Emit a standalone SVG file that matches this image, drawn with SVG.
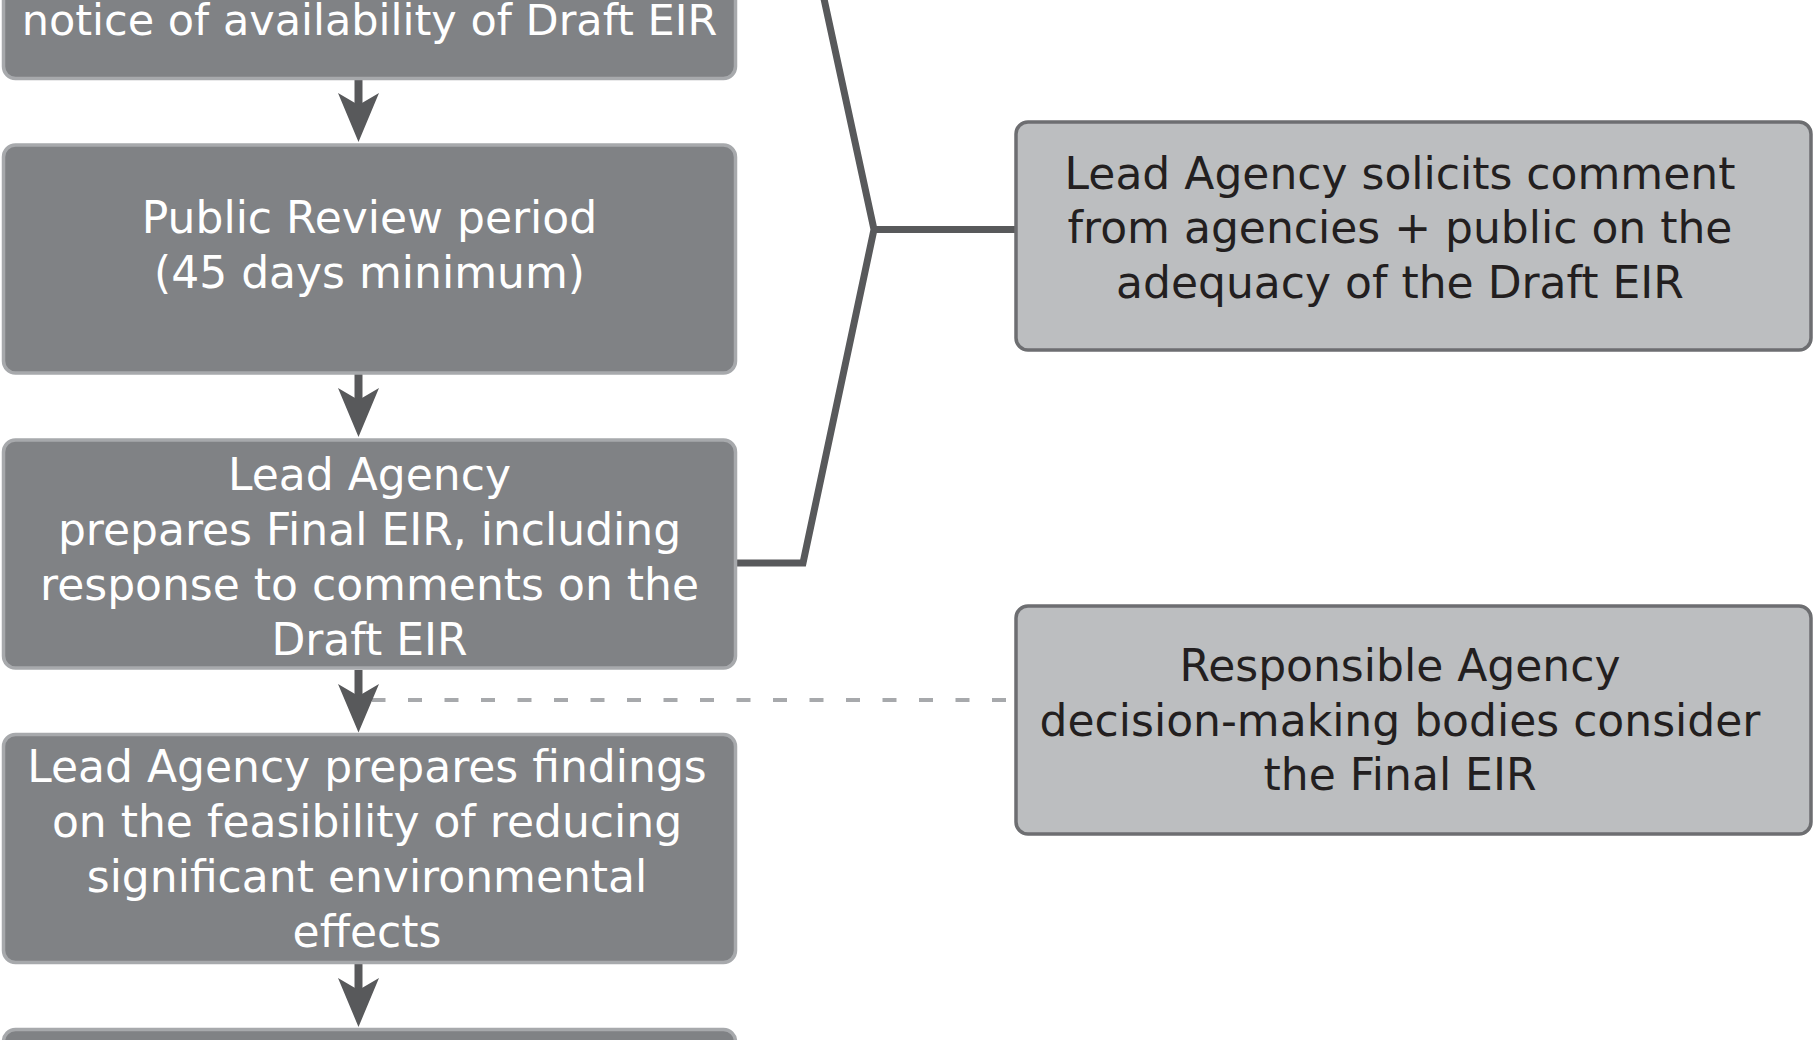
<svg xmlns="http://www.w3.org/2000/svg" width="1816" height="1040" viewBox="0 0 1816 1040">
  <style>
    .main { fill: #808285; stroke: #a7a9ac; stroke-width: 3.5; }
    .side { fill: #bcbec0; stroke: #6d6e71; stroke-width: 3.5; }
    .wt { font-family: "DejaVu Sans", "Liberation Sans", sans-serif; font-size: 44px; fill: #ffffff; text-anchor: middle; }
    .bt { font-family: "DejaVu Sans", "Liberation Sans", sans-serif; font-size: 44px; fill: #231f20; text-anchor: middle; }
    .line { fill: none; stroke: #58595b; stroke-width: 7; stroke-linejoin: miter; }
    .shaft { fill: none; stroke: #58595b; stroke-width: 8; }
    .head { fill: #58595b; }
    .dash { fill: none; stroke: #a7a9ac; stroke-width: 4; stroke-dasharray: 14 22.5; }
  </style>
  <rect width="1816" height="1040" fill="#ffffff"/>

  <g id="connectors">
    <path class="line" d="M 821,-15 L 874,229.5 L 803,563 L 736,563"/>
    <path class="line" d="M 874,229.5 L 1015,229.5"/>
    <line class="dash" x1="1006" y1="700" x2="372" y2="700"/>
    <g id="arrow1">
      <line class="shaft" x1="358.5" y1="80" x2="358.5" y2="108"/>
      <path class="head" d="M 358.5,142 L 338,93 L 358.5,105 L 379,93 Z"/>
    </g>
    <g id="arrow2">
      <line class="shaft" x1="358.5" y1="374" x2="358.5" y2="403"/>
      <path class="head" d="M 358.5,437 L 338,388 L 358.5,400 L 379,388 Z"/>
    </g>
    <g id="arrow3">
      <line class="shaft" x1="358.5" y1="670" x2="358.5" y2="698"/>
      <path class="head" d="M 358.5,732.5 L 338,684 L 358.5,696 L 379,684 Z"/>
    </g>
    <g id="arrow4">
      <line class="shaft" x1="358.5" y1="964" x2="358.5" y2="993"/>
      <path class="head" d="M 358.5,1027 L 338,978 L 358.5,990 L 379,978 Z"/>
    </g>
  </g>

  <g id="node-notice">
    <rect class="main" x="3.5" y="-150" width="732" height="228.5" rx="12"/>
    <text class="wt" x="369.5" y="35" style="font-size:43px">notice of availability of Draft EIR</text>
  </g>

  <g id="node-review">
    <rect class="main" x="3.5" y="145" width="732" height="228" rx="12"/>
    <text class="wt" x="369.5" y="233">Public Review period</text>
    <text class="wt" x="369.5" y="288">(45 days minimum)</text>
  </g>

  <g id="node-final">
    <rect class="main" x="3.5" y="440" width="732" height="228" rx="12"/>
    <text class="wt" x="369.5" y="490">Lead Agency</text>
    <text class="wt" x="369.5" y="545">prepares Final EIR, including</text>
    <text class="wt" x="369.5" y="600">response to comments on the</text>
    <text class="wt" x="369.5" y="655">Draft EIR</text>
  </g>

  <g id="node-findings">
    <rect class="main" x="3.5" y="734.5" width="732" height="228" rx="12"/>
    <text class="wt" x="367" y="782">Lead Agency prepares findings</text>
    <text class="wt" x="367" y="837">on the feasibility of reducing</text>
    <text class="wt" x="367" y="892">significant environmental</text>
    <text class="wt" x="367" y="947">effects</text>
  </g>

  <g id="node-next">
    <rect class="main" x="3.5" y="1029.5" width="732" height="228" rx="12"/>
  </g>

  <g id="node-solicit">
    <rect class="side" x="1016" y="122" width="795" height="228" rx="12"/>
    <text class="bt" x="1400" y="189">Lead Agency solicits comment</text>
    <text class="bt" x="1400" y="243">from agencies + public on the</text>
    <text class="bt" x="1400" y="298">adequacy of the Draft EIR</text>
  </g>

  <g id="node-responsible">
    <rect class="side" x="1016" y="606" width="795" height="228" rx="12"/>
    <text class="bt" x="1400" y="681">Responsible Agency</text>
    <text class="bt" x="1400" y="736">decision-making bodies consider</text>
    <text class="bt" x="1400" y="790">the Final EIR</text>
  </g>
</svg>
